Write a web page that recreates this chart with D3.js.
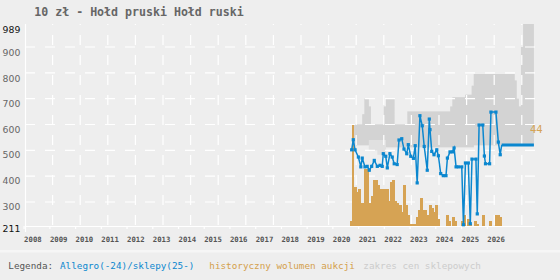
<!DOCTYPE html>
<html>
<head>
<meta charset="utf-8">
<script src="https://cdn.jsdelivr.net/npm/d3@7"></script>
<style>
body { margin: 0; background: #eeeeee; }
svg { display: block; }
</style>
</head>
<body>
<script>
// values
var title = "10 zł - Hołd pruski Hołd ruski";
var years = d3.range(2008, 2027);
var yLabels = [211, 300, 400, 500, 600, 700, 800, 900, 989];
var gridValues = [300, 400, 500, 600, 700, 800, 900];

// historical auction volume, one value per month from 2020-09
var volumeStart = "2020-09";
var volume = [2, 44, 17, 15, 16, 10, 10, 25, 25, 10,
  13, 20, 20, 18, 16, 16, 16, 16, 11, 19,
  20, 11, 10, 9, 6, 18, 9, 5, 1, 1,
  1, 4, 7, 12, 7, 7, 5, 9, 8, 6,
  9, 3, 0, 0, 0, 5, 2, 0, 4, 2,
  0, 0, 2, 5, 0, 3, 1, 0, 2, 1,
  0, 0, 5, 0, 0, 2, 0, 0, 5, 5,
  4];

// shop price range, one value per month from 2020-11
var shopStart = "2020-11";
var shopUpper = [600, 600, 600, 600, 640, 700, 700, 670, 600, 600,
  600, 600, 600, 600, 670, 700, 700, 700, 700, 600,
  600, 600, 600, 600, 600, 650, 650, 650, 650, 650,
  650, 650, 650, 650, 650, 650, 650, 650, 650, 650,
  650, 650, 650, 650, 650, 670, 705, 705, 705, 705,
  705, 705, 715, 715, 715, 750, 795, 795, 795, 795,
  795, 795, 795, 795, 795, 795, 795, 795, 795, 795,
  795, 795, 795, 795, 795, 770, 700, 670, 900, 989,
  989, 989, 989, 989];
var shopLower = [520, 520, 520, 520, 520, 520, 520, 540, 540, 540,
  540, 540, 540, 540, 540, 512, 512, 512, 512, 512,
  512, 512, 512, 512, 512, 512, 512, 512, 512, 512,
  512, 512, 512, 512, 512, 512, 512, 512, 512, 512,
  512, 512, 512, 512, 512, 512, 512, 512, 512, 512,
  512, 512, 512, 512, 512, 512, 520, 520, 520, 520,
  520, 520, 520, 520, 520, 520, 520, 520, 520, 520,
  520, 520, 520, 520, 520, 520, 520, 520, 520, 520,
  520, 520, 520, 520];
var shopLowerWide = [520, 520, 520, 520, 520, 520, 520, 500, 500, 500,
  500, 483, 483, 483, 483, 512, 512, 512, 512, 512,
  512, 512, 512, 512, 512, 512, 512, 512, 512, 512,
  512, 512, 512, 512, 512, 512, 512, 512, 512, 512,
  512, 512, 512, 512, 512, 512, 512, 512, 512, 512,
  512, 512, 512, 512, 512, 512, 520, 520, 520, 520,
  520, 520, 520, 520, 520, 520, 520, 520, 520, 520,
  520, 520, 520, 520, 520, 520, 520, 520, 520, 520,
  520, 520, 520, 520];

// Allegro auction prices
var allegroDates = ["2020-10-01", "2020-10-24", "2020-11-18", "2021-01-04", "2021-02-08",
  "2021-02-28", "2021-04-08", "2021-05-09", "2021-06-08", "2021-07-12",
  "2021-08-18", "2021-09-30", "2021-11-08", "2021-12-09", "2021-12-24",
  "2022-01-28", "2022-02-19", "2022-03-28", "2022-04-30", "2022-05-28",
  "2022-07-09", "2022-08-04", "2022-09-12", "2022-10-14", "2022-11-22",
  "2022-12-14", "2023-01-18", "2023-02-24", "2023-03-22", "2023-04-19",
  "2023-05-28", "2023-06-30", "2023-07-28", "2023-09-09", "2023-10-08",
  "2023-10-18", "2023-11-12", "2023-12-14", "2024-01-22", "2024-02-14",
  "2024-03-18", "2024-04-24", "2024-06-01", "2024-06-21", "2024-07-28",
  "2024-08-31", "2024-09-24", "2024-10-22", "2024-11-24", "2025-01-11",
  "2025-02-04", "2025-03-04", "2025-04-14", "2025-05-12", "2025-06-05",
  "2025-07-31", "2025-08-19", "2025-09-14", "2025-11-05", "2025-11-28",
  "2025-12-14", "2026-02-10", "2026-03-01", "2026-05-11", "2026-06-14",
  "2026-07-11"];
var allegroPrices = [502, 541, 502, 474, 436, 470, 436, 438, 423, 438,
  461, 438, 442, 438, 487, 477, 432, 487, 474, 448,
  445, 540, 545, 505, 487, 522, 477, 469, 518, 374,
  634, 595, 515, 423, 621, 580, 496, 483, 502, 479,
  410, 402, 402, 470, 494, 494, 509, 436, 436, 436,
  212, 451, 451, 216, 466, 466, 254, 598, 598, 478,
  448, 448, 648, 648, 532, 483];

// shop price (sklepy)
var shopPriceStart = "2026-08";
var shopPrice = [521, 521, 521, 521, 521, 521, 521, 521, 521, 521,
  521, 521, 521, 521, 521, 521];

var W = 560, H = 280;
var plotL = 25, plotR = 535, plotT = 24, plotB = 225;
var blue = "#0b87cf", orange = "#d6a354";

var parse = d3.utcParse("%Y-%m-%d");
function months(start, n) {
  var d0 = parse(start + "-01");
  return d3.range(n).map(function (i) { return d3.utcMonth.offset(d0, i); });
}

var x = d3.scaleUtc()
  .domain([new Date(Date.UTC(2008, 0, 1)), new Date(Date.UTC(2028, 0, 1))])
  .range([23.6, 538.2]);
var y = d3.scaleLinear().domain([211, 989]).range([plotB, plotT]);
var yVol = d3.scaleLinear().domain([0, d3.max(volume)]).range([226, 125]);
var yLab = d3.scaleLinear().domain([211, 989]).range([232.3, 33.3]);

var svg = d3.select("body").append("svg").attr("width", W).attr("height", H)
  .style("font-family", "'DejaVu Sans Mono', monospace");
svg.append("rect").attr("width", W).attr("height", H).attr("fill", "#eeeeee");

// shop range band
var bandMonths = months(shopStart, shopUpper.length + 1);
var band = bandMonths.map(function (d, i) {
  var j = Math.min(i, shopUpper.length - 1);
  return {date: d, hi: shopUpper[j], lo: shopLower[j], lo2: shopLowerWide[j]};
});
svg.append("path").datum(band)
  .attr("fill", "#e0e0e0")
  .attr("d", d3.area().curve(d3.curveStepAfter)
    .x(function (d) { return x(d.date); })
    .y0(function (d) { return y(d.lo2); })
    .y1(function (d) { return y(d.hi); }));
svg.append("path").datum(band)
  .attr("fill", "#d3d3d3")
  .attr("d", d3.area().curve(d3.curveStepAfter)
    .x(function (d) { return x(d.date); })
    .y0(function (d) { return y(d.lo); })
    .y1(function (d) { return y(d.hi); }));

// grid
var grid = svg.append("g").attr("stroke", "#ffffff").attr("stroke-width", 1.2)
  .attr("stroke-dasharray", "10,10");
grid.selectAll("line.h").data(gridValues).enter().append("line")
  .attr("x1", plotL).attr("x2", plotR)
  .attr("y1", function (d) { return y(d); }).attr("y2", function (d) { return y(d); });
grid.selectAll("line.v").data(d3.range(1, 19)).enter().append("line")
  .attr("x1", function (k) { return plotL + k * 27.6; })
  .attr("x2", function (k) { return plotL + k * 27.6; })
  .attr("y1", plotB).attr("y2", plotT);

// volume bars
var volMonths = months(volumeStart, volume.length + 1);
svg.append("g").attr("fill", orange).attr("shape-rendering", "crispEdges")
  .selectAll("rect")
  .data(volume).enter().append("rect")
  .attr("x", function (d, i) { return x(volMonths[i]); })
  .attr("width", function (d, i) { return x(volMonths[i + 1]) - x(volMonths[i]) + 0.6; })
  .attr("y", function (d) { return yVol(d); })
  .attr("height", function (d) { return yVol(0) - yVol(d); });

// axes
svg.append("line").attr("x1", plotL + 0.5).attr("x2", plotL + 0.5).attr("y1", plotT).attr("y2", 232)
  .attr("stroke", "#ffffff").attr("stroke-width", 1.2);
var xAxis = d3.axisBottom(x)
  .tickValues(years.map(function (yr) { return new Date(Date.UTC(yr, 0, 1)); }))
  .tickFormat(d3.utcFormat("%Y")).tickSize(3).tickSizeOuter(0);
var gx = svg.append("g").attr("transform", "translate(0,226)").call(xAxis);
gx.select(".domain").remove();
gx.selectAll(".tick line").attr("stroke", "#ffffff").attr("stroke-width", 1.2);
gx.selectAll(".tick text")
  .attr("text-anchor", "start").attr("y", 15.7).attr("dy", 0)
  .attr("fill", "#555").attr("font-weight", "bold")
  .attr("font-family", "'DejaVu Sans Mono', monospace").attr("font-size", "7.3px");
svg.append("line").attr("x1", plotL).attr("x2", plotR).attr("y1", 226.5).attr("y2", 226.5)
  .attr("stroke", "#ffffff").attr("stroke-width", 1);

svg.selectAll("text.ylab").data(yLabels).enter().append("text")
  .attr("class", "ylab")
  .attr("x", 20.3).attr("y", function (d) { return yLab(d); })
  .attr("text-anchor", "end")
  .attr("font-family", "'DejaVu Sans', sans-serif").attr("font-size", "9.3px")
  .attr("fill", function (d) { return (d === 211 || d === 989) ? "#111" : "#666"; })
  .text(function (d) { return d; });

// Allegro line + shop line
var allegro = allegroDates.map(function (d, i) { return {date: parse(d), v: allegroPrices[i]}; });
var shopMonthsList = months(shopPriceStart, shopPrice.length);
var shop = shopPrice.map(function (v, i) { return {date: shopMonthsList[i], v: v}; });
var line = d3.line().x(function (d) { return x(d.date); }).y(function (d) { return y(d.v); });

svg.append("path").datum(allegro.concat([shop[0]]))
  .attr("fill", "none").attr("stroke", blue).attr("stroke-width", 1.5)
  .attr("d", line);
svg.append("g").attr("fill", blue).selectAll("rect")
  .data(allegro).enter().append("rect")
  .attr("x", function (d) { return x(d.date) - 1.6; })
  .attr("y", function (d) { return y(d.v) - 1.6; })
  .attr("width", 3.2).attr("height", 3.2);
svg.append("path").datum(shop)
  .attr("fill", "none").attr("stroke", blue).attr("stroke-width", 3)
  .attr("d", line);

// max volume label
svg.append("text").attr("x", 530).attr("y", yVol(d3.max(volume)) + 8)
  .attr("fill", orange).attr("font-size", "10.5px")
  .text(d3.max(volume));

// title
svg.append("text").attr("x", 34.3).attr("y", 16)
  .attr("fill", "#666").attr("font-weight", "bold").attr("font-size", "11.6px")
  .text(title);

// legend
svg.append("rect").attr("x", 0).attr("y", 250).attr("width", W).attr("height", 2.5)
  .attr("fill", "#f6f6f6");
var legend = [
  {text: "Legenda:", x: 8.3, color: "#555"},
  {text: "Allegro(-24)/sklepy(25-)", x: 60, color: blue},
  {text: "historyczny wolumen aukcji", x: 209.3, color: "#d4a04c"},
  {text: "zakres cen sklepowych", x: 363.3, color: "#cccccc"}
];
svg.selectAll("text.leg").data(legend).enter().append("text")
  .attr("class", "leg")
  .attr("x", function (d) { return d.x; }).attr("y", 269)
  .attr("font-size", "9.3px")
  .attr("fill", function (d) { return d.color; })
  .text(function (d) { return d.text; });
</script>
</body>
</html>
